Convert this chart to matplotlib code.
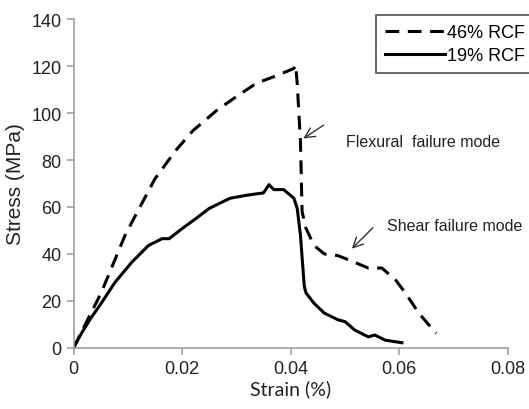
import matplotlib.pyplot as plt

# 46% RCF (dashed)
strain_46 = [0.0, 0.0026, 0.0051, 0.0095, 0.012, 0.015, 0.0188, 0.022, 0.0263, 0.030,
             0.0337, 0.0375, 0.0406, 0.0409, 0.0412, 0.0418, 0.0421, 0.0428, 0.0443,
             0.0462, 0.0487, 0.0512, 0.0543, 0.0568, 0.0593, 0.0611, 0.0636, 0.0668]
stress_46 = [0, 12, 23.5, 48, 59, 72, 84, 92.5, 101, 107,
             112.7, 116, 119, 120.5, 112.7, 88, 58, 51, 43.6,
             40, 39.3, 37, 34, 34, 29, 23.5, 14.8, 6.2]

# 19% RCF (solid)
strain_19 = [0.0, 0.0014, 0.0032, 0.0051, 0.0076, 0.0107, 0.0138, 0.0163, 0.0176, 0.020,
             0.0225, 0.025, 0.0288, 0.0319, 0.035, 0.036, 0.0369, 0.0387, 0.0406, 0.0412,
             0.0418, 0.0425, 0.0428, 0.0443, 0.0462, 0.0487, 0.050, 0.0518, 0.0543, 0.0555,
             0.0574, 0.0605]
stress_19 = [0, 6, 12.7, 19, 27.8, 36.4, 43.6, 46.5, 46.5, 50.8,
             55, 59.4, 63.7, 65, 66, 69.5, 67.4, 67.4, 63.7, 59.4,
             48, 26.3, 23.5, 19, 14.8, 12, 11.2, 7.6, 4.7, 5.5,
             3.3, 2.2]

x_ticks = [0, 0.02, 0.04, 0.06, 0.08]
x_labels = ['0', '0.02', '0.04', '0.06', '0.08']
y_ticks = [0, 20, 40, 60, 80, 100, 120, 140]

plt.rcParams['font.family'] = ['Liberation Sans', 'DejaVu Sans']

fig = plt.figure(figsize=(5.29, 4.10), dpi=100)
ax = fig.add_axes([0.139, 0.149, 0.821, 0.802])

ax.plot(strain_46, stress_46, color='black', lw=2.2, linestyle=(0, (4.5, 2.8)),
        label='46% RCF')
ax.plot(strain_19, stress_19, color='black', lw=2.2, label='19% RCF')

ax.set_xlim(0, 0.08)
ax.set_ylim(0, 140)
ax.set_xticks(x_ticks)
ax.set_xticklabels(x_labels)
ax.set_yticks(y_ticks)

for s in ['top', 'right']:
    ax.spines[s].set_visible(False)
for s in ['left', 'bottom']:
    ax.spines[s].set_color('#a0a0a0')
    ax.spines[s].set_linewidth(1.2)
ax.tick_params(colors='#a0a0a0', length=5, width=1.2, labelsize=13, labelcolor='#222222')

ax.set_xlabel('Strain (%)', fontsize=14, family='Lato', color='#222222', labelpad=2)
ax.set_ylabel('Stress (MPa)', fontsize=15, color='#222222', labelpad=5)

leg = ax.legend(loc='upper right', bbox_to_anchor=(1.08, 1.04), fontsize=13,
                frameon=True, fancybox=False, edgecolor='#333333', handlelength=3.3,
                handletextpad=0.1, borderpad=0.5, labelspacing=0.35)
leg.get_frame().set_linewidth(1.3)

ax.annotate('', xy=(0.0419, 88.5), xytext=(0.0465, 95.5),
            arrowprops=dict(arrowstyle='->', color='#333333', lw=1, mutation_scale=18))
ax.text(0.0502, 88, 'Flexural  failure mode', fontsize=11.5, va='center', color='#222222')

ax.annotate('', xy=(0.0509, 41.4), xytext=(0.0555, 52),
            arrowprops=dict(arrowstyle='->', color='#333333', lw=1, mutation_scale=18))
ax.text(0.0577, 52, 'Shear failure mode', fontsize=11.5, va='center', color='#222222',
        clip_on=False)

fig.savefig('out.png', dpi=100)
